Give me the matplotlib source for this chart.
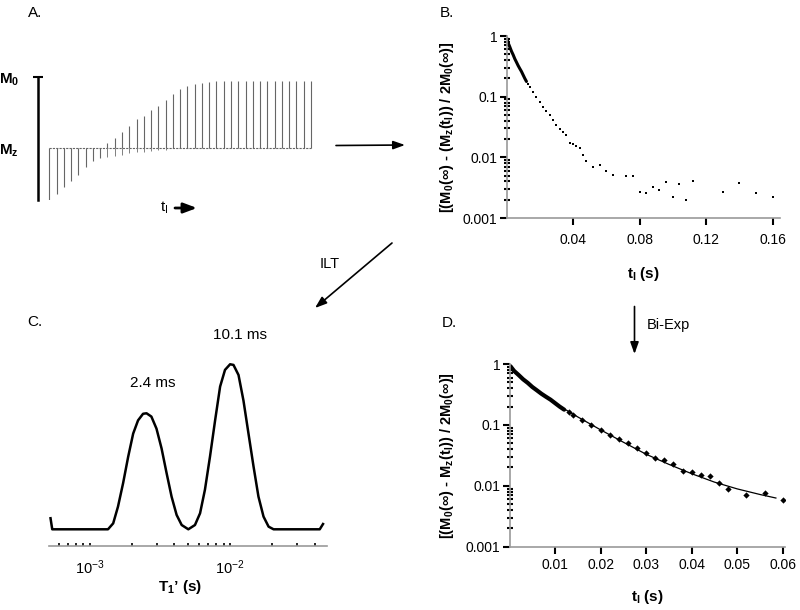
import numpy as np
import matplotlib
matplotlib.use('Agg')
import matplotlib.pyplot as plt
from matplotlib.ticker import FixedLocator, LogLocator, NullFormatter

plt.rcParams['font.family'] = ['Liberation Sans', 'DejaVu Sans']
plt.rcParams['mathtext.fontset'] = 'custom'
plt.rcParams['mathtext.rm'] = 'Liberation Sans'
plt.rcParams['mathtext.bf'] = 'Liberation Sans:bold'
plt.rcParams['mathtext.it'] = 'Liberation Sans:italic'
plt.rcParams['mathtext.default'] = 'regular'

# --- panel A: inversion-recovery spectra, signed peak height (M0 = 1)
spike_idx = np.arange(1, 38)
spike_amp = [-0.728, -0.64, -0.54, -0.46, -0.374, -0.27, -0.175, -0.14, 0.07, 0.147,
             0.227, 0.32, 0.41, 0.46, 0.535, 0.60, 0.68, 0.76, 0.83, 0.877,
             0.90, 0.924, 0.934, 0.943, 0.95, 0.953, 0.953, 0.953, 0.953, 0.953,
             0.953, 0.953, 0.953, 0.953, 0.953, 0.953, 0.953]
spike_lobe = [0, 0, 0, 0, 0, 0, 0, 0, -0.12, -0.11,
              -0.095, -0.07, -0.06, -0.05, -0.04, -0.03, -0.02, 0, 0, 0,
              0, 0, 0, 0, 0, 0, 0, 0, 0, 0,
              0, 0, 0, 0, 0, 0, 0]

# --- panels B / D: normalised recovery, dense start
t_dense = [0.0002, 0.001, 0.002, 0.003, 0.004, 0.005, 0.006, 0.007, 0.008, 0.009,
           0.010, 0.011, 0.012]
y_dense = [0.92, 0.77, 0.66, 0.56, 0.49, 0.42, 0.37, 0.325, 0.29, 0.26,
           0.228, 0.20, 0.178]
# sparse points shared by B and D
t_sparse = [0.013, 0.014, 0.016, 0.018, 0.020, 0.022, 0.024, 0.026, 0.028, 0.030,
            0.032, 0.034, 0.036, 0.038, 0.040, 0.042, 0.044, 0.046, 0.048, 0.052,
            0.056, 0.060]
y_sparse = [0.161, 0.146, 0.120, 0.098, 0.083, 0.068, 0.058, 0.050, 0.041, 0.034,
            0.029, 0.0265, 0.023, 0.0173, 0.0168, 0.0151, 0.0145, 0.0110, 0.0087, 0.0070,
            0.0075, 0.0059]
# later points only in B
t_late = [0.064, 0.072, 0.076, 0.080, 0.084, 0.088, 0.092, 0.096, 0.100, 0.104,
          0.108, 0.112, 0.130, 0.140, 0.150, 0.160]
y_late = [0.0051, 0.0050, 0.0050, 0.0027, 0.0026, 0.0033, 0.0029, 0.0039, 0.0022, 0.0036,
          0.0020, 0.0040, 0.0027, 0.0038, 0.0026, 0.0022]
# bi-exponential fit (panel D)
t_fit = [0.0, 0.0025, 0.005, 0.0075, 0.01, 0.015, 0.02, 0.025, 0.03, 0.035,
         0.04, 0.045, 0.05, 0.055, 0.0585]
y_fit = [0.93, 0.60, 0.42, 0.30, 0.226, 0.135, 0.083, 0.052, 0.033, 0.0225,
         0.0158, 0.0115, 0.0089, 0.0072, 0.0063]

# --- panel C: ILT distribution
T1 = [5.26e-4, 5.41e-4, 1.35e-3, 1.47e-3, 1.59e-3, 1.73e-3, 1.88e-3, 2.04e-3, 2.21e-3, 2.40e-3,
      2.54e-3, 2.75e-3, 2.99e-3, 3.25e-3, 3.53e-3, 3.83e-3, 4.16e-3, 4.52e-3, 5.04e-3, 5.62e-3,
      6.11e-3, 6.62e-3, 7.19e-3, 7.82e-3, 8.49e-3, 9.20e-3, 1.0e-2, 1.057e-2, 1.148e-2, 1.245e-2,
      1.352e-2, 1.469e-2, 1.592e-2, 1.73e-2, 1.88e-2, 2.04e-2, 4.35e-2, 4.59e-2]
amp = [0.067, 0.0, 0.0, 0.036, 0.137, 0.28, 0.44, 0.58, 0.66, 0.70,
       0.703, 0.683, 0.61, 0.49, 0.34, 0.198, 0.087, 0.026, 0.0, 0.026,
       0.097, 0.24, 0.44, 0.66, 0.865, 0.966, 1.0, 0.996, 0.935, 0.78,
       0.58, 0.38, 0.198, 0.077, 0.016, 0.0, 0.0, 0.032]

W, H = 800, 610


def box(l, t, r, b):
    return [l / W, 1 - b / H, (r - l) / W, (b - t) / H]


fig = plt.figure(figsize=(8, 6.1), dpi=100)

# panel A
axA = fig.add_axes(box(37.7, 77.3, 316, 200))
axA.plot(spike_idx, np.zeros(len(spike_idx)), color='0.4', lw=0.8, ls=(0, (2, 1)))
axA.vlines(spike_idx, 0, spike_amp, color='0.4', lw=0.8)
axA.vlines(spike_idx, 0, spike_lobe, color='0.5', lw=0.7)
axA.set_xlim(-0.6, 37.7)
axA.set_ylim(-0.73, 1.0)
for s in ['top', 'right', 'bottom']:
    axA.spines[s].set_visible(False)
axA.spines['left'].set_linewidth(1.8)
axA.spines['left'].set_bounds(-0.73, 1.0)
axA.set_xticks([])
axA.set_yticks([1, 0], [r'M$_\mathbf{0}$', r'M$_\mathbf{z}$'], fontweight='bold', fontsize=11)
axA.tick_params(axis='y', length=7, width=1.5, direction='inout', pad=10)
axA.yaxis.get_major_ticks()[1].tick1line.set_visible(False)
for t in axA.yaxis.get_major_ticks():
    t.tick1line.set_clip_on(False)


def style_decay(ax):
    ax.set_yscale('log')
    ax.set_ylim(1e-3, 1)
    for s in ['top', 'right']:
        ax.spines[s].set_visible(False)
    for s in ['left', 'bottom']:
        ax.spines[s].set_color('#9a9a9a')
        ax.spines[s].set_linewidth(1.2)
    ax.yaxis.set_major_locator(FixedLocator([1e-3, 1e-2, 1e-1, 1]))
    ax.set_yticklabels(['0.001', '0.01', '0.1', '1'])
    ax.yaxis.set_minor_locator(LogLocator(base=10, subs=np.arange(2, 10)))
    ax.yaxis.set_minor_formatter(NullFormatter())
    ax.tick_params(axis='y', which='major', length=5, width=1.5, pad=1.5, labelsize=10,
                   color='k')
    ax.tick_params(axis='y', which='minor', length=4, width=1.5, direction='inout',
                   color='k')
    ax.tick_params(axis='x', which='major', length=5, width=1.5, pad=6, labelsize=10,
                   color='k')


# panel B
axB = fig.add_axes(box(506.5, 36, 780, 218))
axB.plot(t_dense, y_dense, color='k', lw=2.2, solid_capstyle='round')
axB.plot(t_sparse + t_late, y_sparse + y_late, 's', color='k', ms=1.8, mew=0)
style_decay(axB)
axB.set_xlim(0, 0.1645)
axB.set_xticks([0.04, 0.08, 0.12, 0.16], ['0.04', '0.08', '0.12', '0.16'])
axB.set_ylabel(r'[(M$_\mathbf{0}$($\infty$) - (M$_\mathbf{z}$(t$_\mathbf{I}$)) / 2M$_\mathbf{0}$($\infty$)]',
               fontweight='bold', fontsize=10.5)
axB.yaxis.set_label_coords(-0.185, 0.5)
axB.set_xlabel(r't$_\mathbf{I}$ (s)', fontweight='bold', fontsize=11)
axB.xaxis.set_label_coords(0.5, -0.258)

# panel D
axD = fig.add_axes(box(509.5, 364, 785, 546.7))
axD.plot(t_fit, y_fit, color='k', lw=0.9)
axD.plot(t_dense, y_dense, color='k', lw=3, solid_capstyle='round')
axD.plot(t_sparse, y_sparse, 'D', color='k', ms=3.2, mew=0)
style_decay(axD)
axD.set_xlim(0, 0.0605)
axD.set_xticks([0.01, 0.02, 0.03, 0.04, 0.05, 0.06],
               ['0.01', '0.02', '0.03', '0.04', '0.05', '0.06'])
axD.tick_params(axis='x', pad=3)
axD.set_ylabel(r'[(M$_\mathbf{0}$($\infty$) - M$_\mathbf{z}$(t$_\mathbf{I}$)) / 2M$_\mathbf{0}$($\infty$)]',
               fontweight='bold', fontsize=10.5)
axD.yaxis.set_label_coords(-0.194, 0.5)
axD.set_xlabel(r't$_\mathbf{I}$ (s)', fontweight='bold', fontsize=11)
axD.xaxis.set_label_coords(0.5, -0.226)

# panel C
axC = fig.add_axes(box(49, 340, 327, 545.7))
axC.plot(T1, amp, color='k', lw=1.8)
axC.set_xscale('log')
axC.set_xlim(5.13e-4, 0.049)
axC.set_ylim(-0.0994, 1.147)
for s in ['top', 'right', 'left']:
    axC.spines[s].set_visible(False)
axC.spines['bottom'].set_color('#9a9a9a')
axC.spines['bottom'].set_linewidth(1.2)
axC.set_yticks([])
axC.xaxis.set_major_locator(FixedLocator([1e-3, 1e-2]))
axC.xaxis.set_minor_locator(LogLocator(base=10, subs=np.arange(2, 10)))
axC.xaxis.set_minor_formatter(NullFormatter())
axC.tick_params(axis='x', which='both', direction='in', length=2, width=1.2, pad=9, labelsize=10.5)
axC.set_xlabel('T$_\\mathbf{1}$\u2019 (s)', fontweight='bold', fontsize=11)
axC.xaxis.set_label_coords(0.471, -0.157)

# overlay: labels and arrows
ov = fig.add_axes([0, 0, 1, 1])
ov.set_xlim(0, W)
ov.set_ylim(H, 0)
ov.axis('off')
ov.patch.set_alpha(0)

for txt, x, y in [('A.', 28, 13), ('B.', 440, 13), ('C.', 27, 322), ('D.', 442, 323)]:
    ov.text(x, y, txt, fontsize=11, ha='left', va='center')

ov.text(160, 208, r't$_\mathrm{I}$', fontsize=11, ha='left', va='center')
ov.text(330, 264, 'ILT', fontsize=10.5, ha='center', va='center')
ov.text(647, 325, 'Bi-Exp', fontsize=10.5, ha='left', va='center')
ov.text(153, 383, '2.4 ms', fontsize=11, ha='center', va='center')
ov.text(240, 335, '10.1 ms', fontsize=11, ha='center', va='center')

arr = dict(arrowstyle='-|>,head_length=0.7,head_width=0.25', color='k', lw=1.2,
           shrinkA=0, shrinkB=0)
ov.annotate('', xy=(405, 145), xytext=(336, 145.5), arrowprops=arr)
ov.annotate('', xy=(315, 308), xytext=(392, 243), arrowprops=arr)
ov.annotate('', xy=(634.5, 354), xytext=(634.5, 306.5), arrowprops=arr)
ov.annotate('', xy=(197, 208), xytext=(175, 208),
            arrowprops=dict(arrowstyle='-|>,head_length=0.8,head_width=0.3', color='k',
                            lw=2, shrinkA=0, shrinkB=0))

fig.savefig('out.png', dpi=100)
